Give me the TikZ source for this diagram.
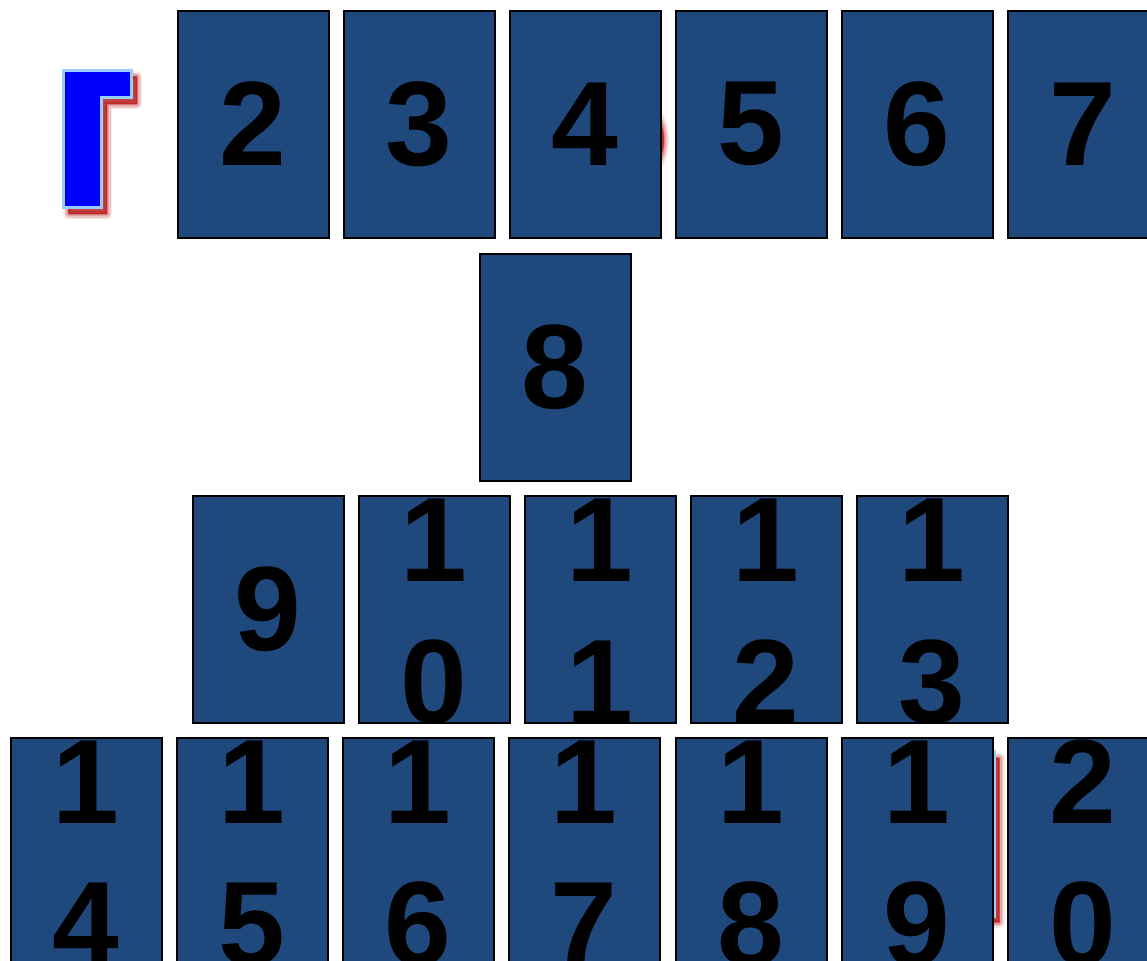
\documentclass[tikz,border=0pt]{standalone}
\usepackage{fontspec}
\setmainfont{Liberation Sans}
\usetikzlibrary{calc}
\definecolor{cardblue}{RGB}{31,73,125}
\definecolor{glyphblue}{RGB}{0,0,255}
\definecolor{glyphedge}{RGB}{153,204,255}
\definecolor{shadowred}{RGB}{180,15,15}
\tikzset{
  cardbox/.style={draw=black, line width=1.5pt, fill=cardblue, rectangle, anchor=north west,
    minimum width=113.25pt, minimum height=170.25pt, inner sep=0pt, outer sep=0pt},
  digit/.style={font=\fontsize{90}{100}\selectfont\bfseries, text=black, inner sep=0pt, draw=none, fill=none, anchor=center},
  glyph/.style={fill=glyphblue, draw=glyphedge, line width=2.6pt, line join=miter},
}
\newcommand\onecard[4]{\node[cardbox, path picture={\node[digit] at (path picture bounding box.center) {#4};}] (#1) at (#2,#3) {};}
\newcommand\twocard[5]{\node[cardbox, path picture={%
  \node[digit, anchor=base] at ($(path picture bounding box.north)+(0,85.5)$) {#4};
  \node[digit, anchor=base] at ($(path picture bounding box.south)+(0,0.5)$) {#5};}] (#1) at (#2,#3) {};}
\newcommand\softshadow[1]{\foreach \w/\o in {11/0.10,8/0.14,5/0.2,2/0.3,0.5/0.4}{\path[fill=shadowred, draw=shadowred, opacity=\o, line width=\w*0.75pt, line join=round] #1;}}
\begin{document}
\begin{tikzpicture}[x=0.75pt, y=-0.75pt]
\useasboundingbox (0,0) rectangle (1147,961);
\clip (0,0) rectangle (1147,961);
% hidden shapes behind the cards
\begin{scope}[shift={(5,6)}]
  \softshadow{(628,134) ellipse [x radius=23pt, y radius=30pt]}
  \softshadow{(930,752) rectangle (994,916)}
  \softshadow{(63.5,70.5) -- (131.5,70.5) -- (131.5,97.5) -- (101.5,97.5) -- (101.5,207.5) -- (63.5,207.5) -- cycle}
\end{scope}
\path[glyph] (628,134) ellipse [x radius=23pt, y radius=30pt];
\path[glyph] (930,752) rectangle (994,916);
% the letter
\path[glyph] (63.5,70.5) coordinate (g) -- (131.5,70.5) -- (131.5,97.5) -- (101.5,97.5) -- (101.5,207.5) -- (63.5,207.5) -- cycle;
% row 1
\onecard{c2}{177.5}{10.5}{2}
\onecard{c3}{343.5}{10.5}{3}
\onecard{c4}{509.5}{10.5}{4}
\onecard{c5}{675.5}{10.5}{5}
\onecard{c6}{841.5}{10.5}{6}
\onecard{c7}{1007.5}{10.5}{7}
% row 2
\onecard{c8}{479.5}{253.5}{8}
% row 3
\onecard{c9}{192.5}{495.5}{9}
\twocard{c10}{358.5}{495.5}{1}{0}
\twocard{c11}{524.5}{495.5}{1}{1}
\twocard{c12}{690.5}{495.5}{1}{2}
\twocard{c13}{856.5}{495.5}{1}{3}
% row 4
\twocard{c14}{10.5}{737.5}{1}{4}
\twocard{c15}{176.5}{737.5}{1}{5}
\twocard{c16}{342.5}{737.5}{1}{6}
\twocard{c17}{508.5}{737.5}{1}{7}
\twocard{c18}{675.5}{737.5}{1}{8}
\twocard{c19}{841.5}{737.5}{1}{9}
\twocard{c20}{1007.5}{737.5}{2}{0}
\end{tikzpicture}
\end{document}
